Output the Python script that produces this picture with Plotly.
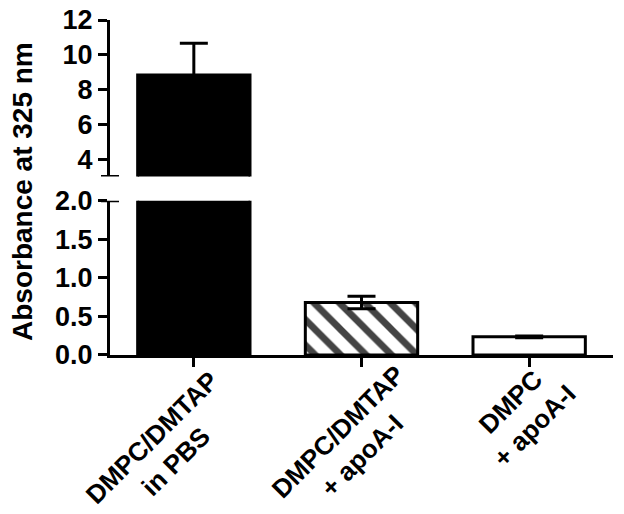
import plotly.graph_objects as go

# ---- data ----
categories = ["DMPC/DMTAP<br>in PBS", "DMPC/DMTAP<br>+ apoA-I", "DMPC<br>+ apoA-I"]
means = [8.83, 0.68, 0.235]
sem = [1.83, 0.08, 0.01]
lower_ticks = [0.0, 0.5, 1.0, 1.5, 2.0]
upper_ticks = [4, 6, 8, 10, 12]

# ---- styles ----
fills = ["black", "white", "white"]
patterns = ["", "\\", ""]
FONT = "Liberation Sans, Arial, sans-serif"
OFF = 8                      # default body margin of the page
W, H = 624 - OFF, 514 - OFF
ML, MR, MT, MB = 110 - OFF, 11, 20 - OFF, 159
PW = W - ML - MR
PH = H - MT - MB
label_dx = [-0.18, -0.07, -0.04]      # label centre offsets (category units)
label_py = [450, 444, 414]            # label centre (page pixels)

xs = list(range(len(categories)))

def bar_trace(yaxis):
    return go.Bar(
        x=xs, y=means, yaxis=yaxis, width=0.67,
        marker=dict(color=fills, line=dict(color="black", width=3),
                    pattern=dict(shape=patterns, fgcolor="black", bgcolor="white",
                                 fgopacity=1, size=18, solidity=0.38, fillmode="overlay")),
        error_y=dict(type="data", array=sem, visible=True, color="black",
                     thickness=3, width=14),
        showlegend=False, hoverinfo="skip",
    )

fig = go.Figure([bar_trace("y"), bar_trace("y2")])

axis_common = dict(showline=True, linecolor="black", linewidth=3, ticks="outside",
                   ticklen=9, tickwidth=3, tickcolor="black", showgrid=False,
                   zeroline=False, anchor="x", automargin=False,
                   ticklabeloverflow="allow",
                   tickfont=dict(family=FONT, size=27, color="black", weight="bold"))

fig.update_layout(
    width=W, height=H, margin=dict(l=ML, r=MR, t=MT, b=MB, autoexpand=False),
    paper_bgcolor="white", plot_bgcolor="white", barmode="overlay",
    xaxis=dict(range=[-0.5, 2.5], showline=True, linecolor="black", linewidth=3,
               ticks="outside", ticklen=9, tickwidth=3, tickcolor="black",
               tickvals=xs, showticklabels=False, showgrid=False, zeroline=False,
               anchor="y", automargin=False),
    yaxis=dict(domain=[0, 0.4606], range=[0, 2], tickvals=lower_ticks,
               tickformat=".1f", **axis_common),
    yaxis2=dict(domain=[0.533, 1], range=[3, 12], tickvals=upper_ticks, **axis_common),
)

# axis break caps
cap = 9 / PW
fig.add_shape(type="line", xref="paper", yref="y2", x0=-cap, x1=cap, y0=3, y1=3,
              line=dict(color="black", width=3))
fig.add_shape(type="line", xref="paper", yref="y", x0=-cap, x1=cap, y0=2, y1=2,
              line=dict(color="black", width=3))

def py_to_paper(py):
    return (MT + PH - (py - OFF)) / PH

# category labels
for i, lab in enumerate(categories):
    fig.add_annotation(x=i + label_dx[i], y=py_to_paper(label_py[i]), xref="x", yref="paper",
                       text="<b>" + lab + "</b>", textangle=-45, showarrow=False,
                       align="center", xanchor="center", yanchor="middle",
                       font=dict(family=FONT, size=26, color="black"))

# y-axis title
fig.add_annotation(x=(22 - OFF - ML) / PW, y=py_to_paper(192), xref="paper", yref="paper",
                   text="<b>Absorbance at 325 nm</b>", textangle=-90, showarrow=False,
                   xanchor="center", yanchor="middle",
                   font=dict(family=FONT, size=28, color="black"))

fig.write_html("out.html")
